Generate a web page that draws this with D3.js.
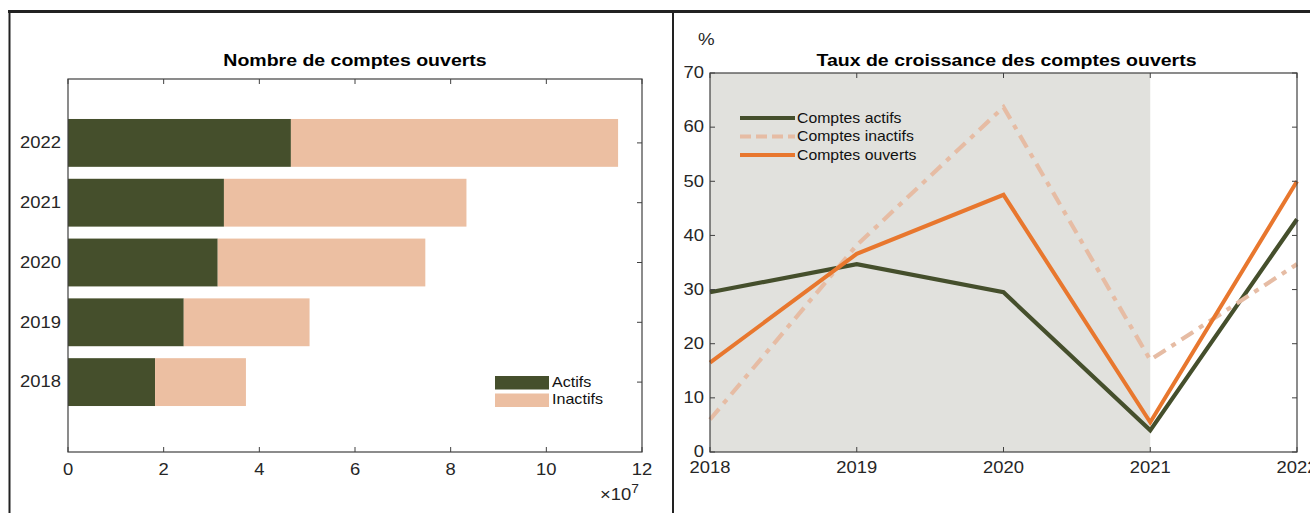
<!DOCTYPE html>
<html><head><meta charset="utf-8">
<script src="https://cdn.jsdelivr.net/npm/d3@7"></script>
<style>
body{margin:0;background:#fff;}
svg{display:block;font-family:"Liberation Sans",Arial,sans-serif;}
</style></head>
<body><svg id="c" width="1310" height="513"></svg>
<script>
// ---- data ----
const years = ["2018","2019","2020","2021","2022"];
const actifs = [1.82, 2.42, 3.13, 3.26, 4.66];      // x 1e7
const inactifs = [1.90, 2.63, 4.34, 5.07, 6.84];    // x 1e7
const xTicksLeft = [0,2,4,6,8,10,12];
const growthYears = [2018,2019,2020,2021,2022];
const growthActifs = [29.5, 34.7, 29.5, 4.0, 43.0];
const growthInactifs = [6.0, 38.2, 63.7, 17.0, 34.7];
const growthOuverts = [16.5, 36.6, 47.5, 5.5, 50.0];
const yTicksRight = [0,10,20,30,40,50,60,70];
const shadeRange = [2018, 2021];

const svg = d3.select("#c");
const ink = "#262626", axisCol = "#404040";
const cA = "#454f2c", cI = "#ecbfa2", cO = "#e8772e";

// text helper: horizontally stretched text (the source image is stretched)
function txt(g, x, y, str, o={}){
  return g.append("text")
    .attr("transform", `translate(${x},${y}) scale(${o.sx||1.15},1)`)
    .attr("text-anchor", o.anchor||"start")
    .attr("dominant-baseline", o.base||"middle")
    .attr("font-size", o.fs||16)
    .attr("font-weight", o.fw||"normal")
    .attr("fill", o.fill||ink)
    .text(str);
}

// ---- outer frame ----
svg.append("line").attr("x1",8).attr("x2",1310).attr("y1",11.5).attr("y2",11.5).attr("stroke","#222").attr("stroke-width",3);
svg.append("line").attr("x1",9.5).attr("x2",9.5).attr("y1",11).attr("y2",513).attr("stroke","#222").attr("stroke-width",2);
svg.append("line").attr("x1",673).attr("x2",673).attr("y1",11).attr("y2",513).attr("stroke","#222").attr("stroke-width",2);

// ---- left chart ----
const L = {l:68, r:642, t:79, b:452};
const x = d3.scaleLinear().domain([0,12]).range([L.l, L.r]);
const y = d3.scaleBand().domain(years.slice().reverse()).range([113, 412]).paddingInner(0.2).paddingOuter(0.1);
const gL = svg.append("g");

const rows = years.map((yr,i)=>({yr, a:actifs[i], n:inactifs[i]}));
gL.selectAll("rect.a").data(rows).join("rect").attr("class","a")
  .attr("x", x(0)).attr("y", d=>y(d.yr)).attr("height", y.bandwidth())
  .attr("width", d=>x(d.a)-x(0)).attr("fill", cA);
gL.selectAll("rect.n").data(rows).join("rect").attr("class","n")
  .attr("x", d=>x(d.a)).attr("y", d=>y(d.yr)).attr("height", y.bandwidth())
  .attr("width", d=>x(d.a+d.n)-x(d.a)).attr("fill", cI);

gL.append("rect").attr("x",L.l).attr("y",L.t).attr("width",L.r-L.l).attr("height",L.b-L.t)
  .attr("fill","none").attr("stroke",axisCol).attr("stroke-width",1.2);
const tl = 5;
xTicksLeft.forEach(t=>{
  gL.append("line").attr("x1",x(t)).attr("x2",x(t)).attr("y1",L.b).attr("y2",L.b-tl).attr("stroke",axisCol);
  gL.append("line").attr("x1",x(t)).attr("x2",x(t)).attr("y1",L.t).attr("y2",L.t+tl).attr("stroke",axisCol);
  txt(gL, x(t), L.b+19, t, {anchor:"middle"});
});
years.forEach(yr=>{
  const cy = y(yr)+y.bandwidth()/2;
  gL.append("line").attr("x1",L.r).attr("x2",L.r-tl).attr("y1",cy).attr("y2",cy).attr("stroke",axisCol);
  txt(gL, L.l-7, cy+1, yr, {anchor:"end"});
});
// exponent
const ex = gL.append("text").attr("transform","translate(600,500) scale(1.15,1)").attr("font-size",16).attr("fill",ink);
ex.append("tspan").text("\u00d710");
ex.append("tspan").attr("dy",-7).attr("font-size",12).text("7");
// title
txt(gL, (L.l+L.r)/2, 62, "Nombre de comptes ouverts", {anchor:"middle", fs:16, fw:"bold", sx:1.22, fill:"#000"});
// legend
const legL = [{k:"Actifs",c:cA},{k:"Inactifs",c:cI}];
legL.forEach((d,i)=>{
  gL.append("rect").attr("x",495).attr("y",376+i*17.5).attr("width",54).attr("height",13.5).attr("fill",d.c);
  txt(gL, 552, 383+i*17.5, d.k, {fs:14, fill:"#111"});
});

// ---- right chart ----
const R = {l:710, r:1297, t:73, b:452};
const xr = d3.scaleLinear().domain([2018,2022]).range([R.l,R.r]);
const yr2 = d3.scaleLinear().domain([0,70]).range([R.b,R.t]);
const gR = svg.append("g");
gR.append("rect").attr("x",xr(shadeRange[0])).attr("y",yr2(70)).attr("width",xr(shadeRange[1])-xr(shadeRange[0]))
  .attr("height",yr2(0)-yr2(70)).attr("fill","#e1e1dd");

const series = [
  {k:"Comptes actifs", v:growthActifs, c:cA, w:4.2, dash:null},
  {k:"Comptes inactifs", v:growthInactifs, c:"#e6bca4", w:4.2, dash:"14,7,5,7"},
  {k:"Comptes ouverts", v:growthOuverts, c:cO, w:4, dash:null}
];
const line = d3.line().x((d,i)=>xr(growthYears[i])).y(d=>yr2(d));
series.forEach(s=>{
  gR.append("path").attr("d",line(s.v)).attr("fill","none").attr("stroke",s.c)
    .attr("stroke-width",s.w).attr("stroke-linejoin","miter").attr("stroke-dasharray",s.dash);
});
gR.append("rect").attr("x",R.l).attr("y",R.t).attr("width",R.r-R.l).attr("height",R.b-R.t)
  .attr("fill","none").attr("stroke",axisCol).attr("stroke-width",1.2);
growthYears.forEach(t=>{
  gR.append("line").attr("x1",xr(t)).attr("x2",xr(t)).attr("y1",R.b).attr("y2",R.b-tl).attr("stroke",axisCol);
  gR.append("line").attr("x1",xr(t)).attr("x2",xr(t)).attr("y1",R.t).attr("y2",R.t+tl).attr("stroke",axisCol);
  txt(gR, xr(t), R.b+17, t, {anchor:"middle"});
});
yTicksRight.forEach(t=>{
  gR.append("line").attr("x1",R.l).attr("x2",R.l+tl).attr("y1",yr2(t)).attr("y2",yr2(t)).attr("stroke",axisCol);
  gR.append("line").attr("x1",R.r).attr("x2",R.r-tl).attr("y1",yr2(t)).attr("y2",yr2(t)).attr("stroke",axisCol);
  txt(gR, R.l-6, yr2(t)+1, t, {anchor:"end"});
});
txt(gR, 698, 41, "%", {fs:17, sx:1.1});
txt(gR, (R.l+R.r)/2+3, 62, "Taux de croissance des comptes ouverts", {anchor:"middle", fs:16, fw:"bold", sx:1.22, fill:"#000"});
series.forEach((s,i)=>{
  const ly = 118 + i*18.5;
  gR.append("line").attr("x1",740).attr("x2",795).attr("y1",ly).attr("y2",ly).attr("stroke",s.c)
    .attr("stroke-width",s.w).attr("stroke-dasharray",s.dash ? "11,5" : null);
  txt(gR, 797, ly+1, s.k, {fs:14, sx:1.13, fill:"#111"});
});
</script></body></html>
